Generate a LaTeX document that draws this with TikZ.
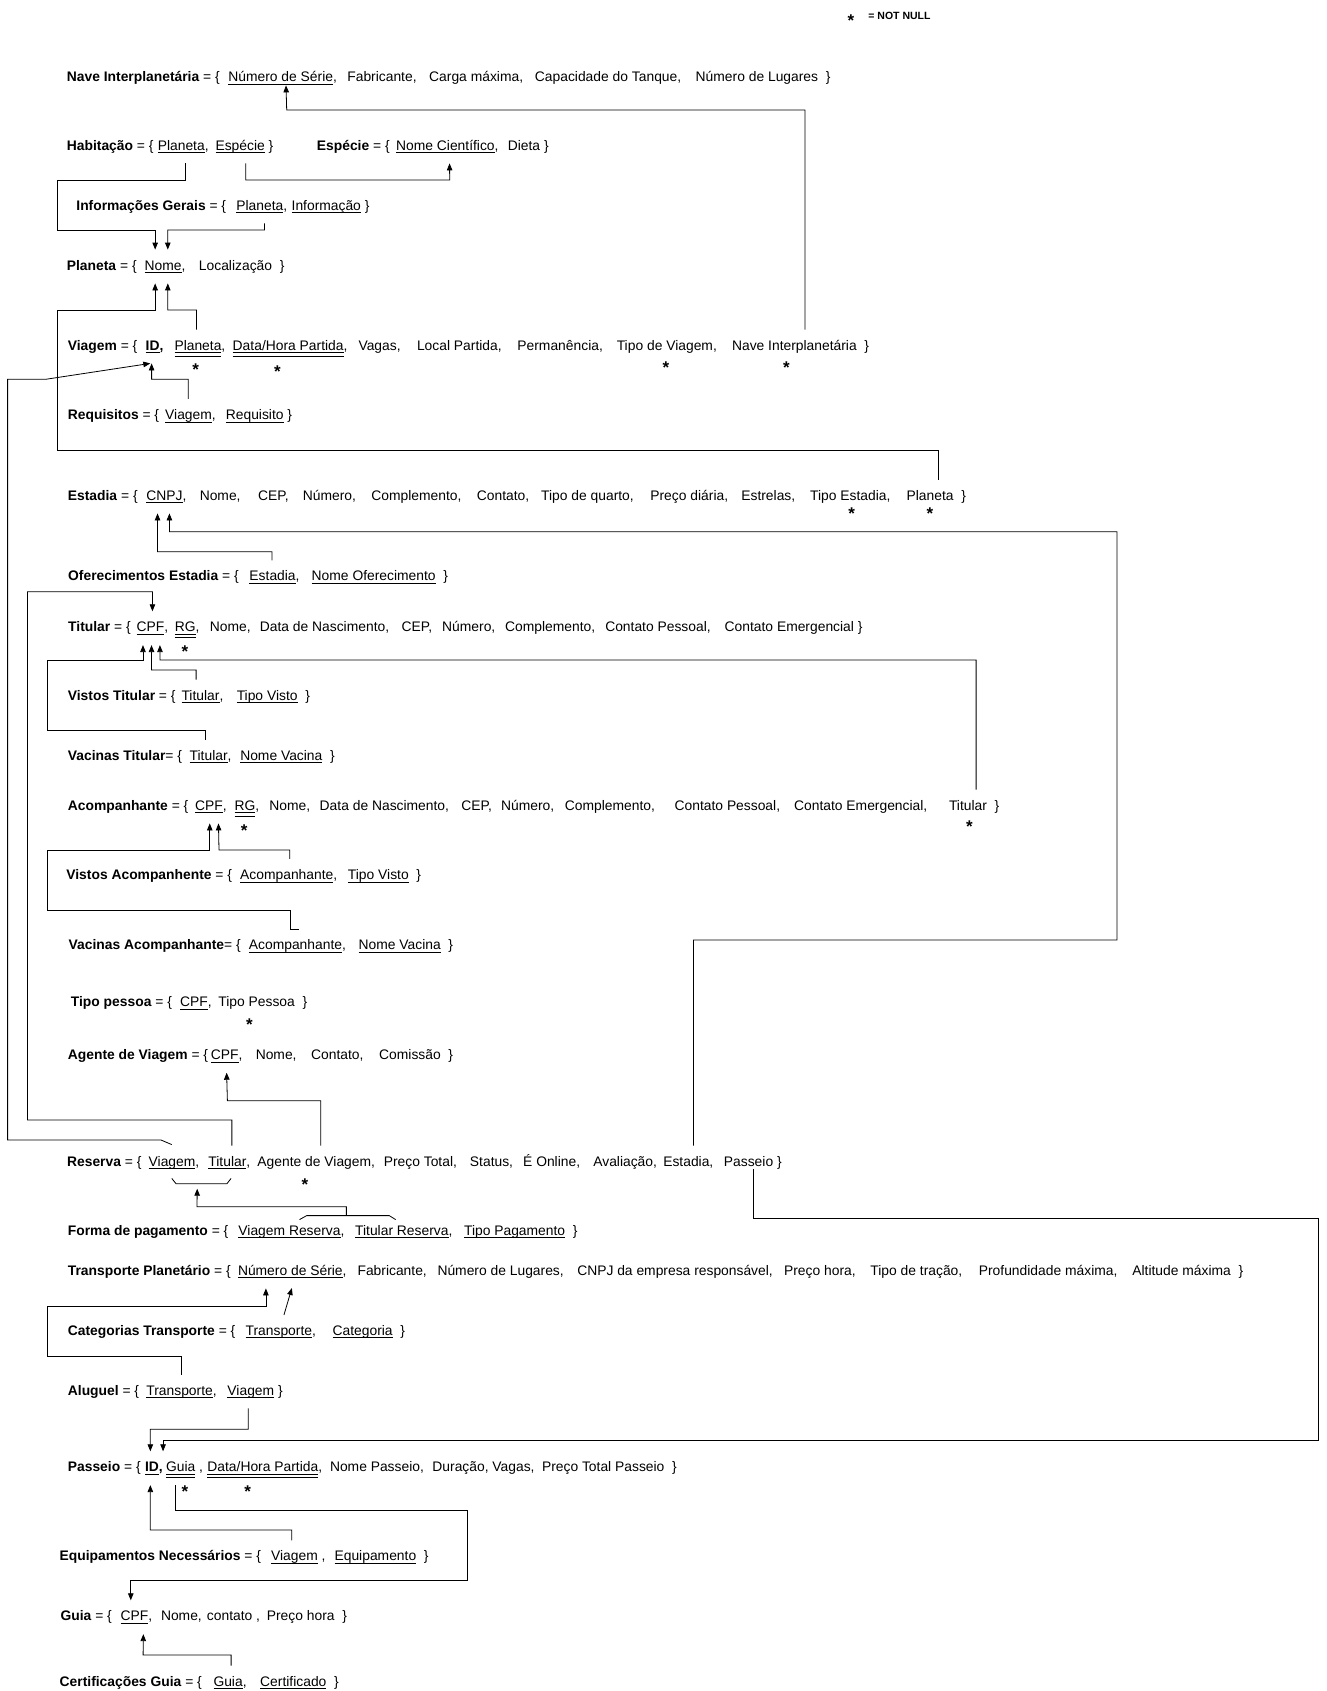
\documentclass[tikz,border=0pt]{standalone}
\usepackage{fontspec}
\setmainfont{Liberation Sans}
\usepackage{tikz}
\usetikzlibrary{arrows.meta, positioning}
\newsavebox\chbox
\newcommand{\chave}[1]{\sbox\chbox{#1}\rlap{\rule[-3pt]{\wd\chbox}{0.8pt}}\usebox\chbox}
\newcommand{\unica}[1]{\sbox\chbox{#1}\rlap{\rule[-3pt]{\wd\chbox}{0.8pt}}\rlap{\rule[-6.5pt]{\wd\chbox}{0.8pt}}\usebox\chbox}

\begin{document}
\begin{tikzpicture}[x=1pt, y=-1pt, >={Triangle[length=7pt, width=5.5pt]}, line width=0.8pt,
        every node/.style={font=\fontsize{13.85}{17}\selectfont},
        rel/.style={anchor=base west, inner sep=0pt},
        attr/.style={anchor=base west, inner sep=0pt, text height=10pt, text depth=3pt},
        nn/.style={anchor=base, inner sep=0pt, font=\bfseries\fontsize{17}{17}\selectfont},
        fk/.style={->, shorten <=10pt, shorten >=10pt}]

        \useasboundingbox (0,0) rectangle (1327,1691);

        \node[nn] (nn-leg) at (851,26.5) {*};
        \node[rel, font=\bfseries\fontsize{10.5}{12}\selectfont] (leg) at (868,19.3) {= NOT NULL};

        \node[rel] (nave) at (66.5,82) {\textbf{Nave Interplanetária} = \{};
        \node[attr, base right=7.8pt of nave] (nave-ns) {\chave{Número de Série},};
        \node[attr, base right=9.6pt of nave-ns] (nave-fab) {Fabricante,};
        \node[attr, base right=11.8pt of nave-fab] (nave-carga) {Carga máxima,};
        \node[attr, base right=11pt of nave-carga] (nave-tanque) {Capacidade do Tanque,};
        \node[attr, base right=13.7pt of nave-tanque] (nave-lug) {Número de Lugares~~\}};

        \node[rel] (hab) at (66.5,150) {\textbf{Habitação} = \{};
        \node[attr, base right=3.5pt of hab] (hab-pl) {\chave{Planeta},};
        \node[attr, base right=6.1pt of hab-pl] (hab-esp) {\chave{Espécie}~\}};
        \node[rel] (esp) at (316.5,150) {\textbf{Espécie} = \{};
        \node[attr, base right=5.7pt of esp] (esp-nc) {\chave{Nome Científico},};
        \node[attr, base right=8.5pt of esp-nc] (esp-dieta) {Dieta~\}};

        \node[rel] (inf) at (76,210) {\textbf{Informações Gerais} = \{};
        \node[attr, base right=9.5pt of inf] (inf-pl) {\chave{Planeta},};
        \node[attr, base right=3.6pt of inf-pl] (inf-info) {\chave{Informação}~\}};

        \node[rel] (pl) at (66.5,270) {\textbf{Planeta} = \{};
        \node[attr, base right=7.1pt of pl] (pl-nome) {\chave{Nome},};
        \node[attr, base right=12.8pt of pl-nome] (pl-loc) {Localização~~\}};

        \node[rel] (via) at (67.5,350) {\textbf{Viagem} = \{};
        \node[attr, base right=7.6pt of via] (via-id) {\textbf{\chave{ID},}};
        \node[attr, base right=10.3pt of via-id] (via-pl) {\unica{Planeta},};
        \node[attr, base right=6.6pt of via-pl] (via-data) {\unica{Data/Hora Partida},};
        \node[attr, base right=10.3pt of via-data] (via-vagas) {Vagas,};
        \node[attr, base right=15.6pt of via-vagas] (via-local) {Local Partida,};
        \node[attr, base right=14.9pt of via-local] (via-perm) {Permanência,};
        \node[attr, base right=13.1pt of via-perm] (via-tipo) {Tipo de Viagem,};
        \node[attr, base right=14.4pt of via-tipo] (via-nave) {Nave Interplanetária~~\}};
        \node[nn] (nn-via-pl) at (195.6,375.5) {*};
        \node[nn] (nn-via-data) at (277.4,377.8) {*};
        \node[nn] (nn-via-tipo) at (666,373.5) {*};
        \node[nn] (nn-via-nave) at (786.4,373.5) {*};

        \node[rel] (req) at (67.5,419.3) {\textbf{Requisitos} = \{};
        \node[attr, base right=5.3pt of req] (req-via) {\chave{Viagem},};
        \node[attr, base right=9.3pt of req-via] (req-req) {\chave{Requisito}~\}};

        \node[rel] (est) at (67.5,500) {\textbf{Estadia} = \{};
        \node[attr, base right=8pt of est] (est-cnpj) {\chave{CNPJ},};
        \node[attr, base right=12.5pt of est-cnpj] (est-nome) {Nome,};
        \node[attr, base right=16.8pt of est-nome] (est-cep) {CEP,};
        \node[attr, base right=13.3pt of est-cep] (est-num) {Número,};
        \node[attr, base right=14.7pt of est-num] (est-comp) {Complemento,};
        \node[attr, base right=14.6pt of est-comp] (est-cont) {Contato,};
        \node[attr, base right=11.1pt of est-cont] (est-quarto) {Tipo de quarto,};
        \node[attr, base right=15.8pt of est-quarto] (est-preco) {Preço diária,};
        \node[attr, base right=12.4pt of est-preco] (est-estr) {Estrelas,};
        \node[attr, base right=14.1pt of est-estr] (est-tipo) {Tipo Estadia,};
        \node[attr, base right=15.4pt of est-tipo] (est-pl) {Planeta~~\}};
        \node[nn] (nn-est-tipo) at (851.6,519.5) {*};
        \node[nn] (nn-est-pl) at (929.8,519.5) {*};

        \node[rel] (ofe) at (67.8,580.7) {\textbf{Oferecimentos Estadia} = \{};
        \node[attr, base right=9.9pt of ofe] (ofe-est) {\chave{Estadia},};
        \node[attr, base right=11.4pt of ofe-est] (ofe-nome) {\chave{Nome Oferecimento}~~\}};

        \node[rel] (tit) at (67.8,631.7) {\textbf{Titular} = \{};
        \node[attr, base right=5.2pt of tit] (tit-cpf) {\chave{CPF},};
        \node[attr, base right=5.8pt of tit-cpf] (tit-rg) {\unica{RG},};
        \node[attr, base right=9.7pt of tit-rg] (tit-nome) {Nome,};
        \node[attr, base right=8.3pt of tit-nome] (tit-nasc) {Data de Nascimento,};
        \node[attr, base right=11.6pt of tit-nasc] (tit-cep) {CEP,};
        \node[attr, base right=9.3pt of tit-cep] (tit-num) {Número,};
        \node[attr, base right=9pt of tit-num] (tit-comp) {Complemento,};
        \node[attr, base right=9.3pt of tit-comp] (tit-cp) {Contato Pessoal,};
        \node[attr, base right=13.1pt of tit-cp] (tit-ce) {Contato Emergencial~\}};
        \node[nn] (nn-tit-rg) at (185,657.8) {*};

        \node[rel] (vt) at (67.5,700) {\textbf{Vistos Titular} = \{};
        \node[attr, base right=5.2pt of vt] (vt-tit) {\chave{Titular},};
        \node[attr, base right=12.6pt of vt-tit] (vt-visto) {\chave{Tipo Visto}~~\}};

        \node[rel] (vac) at (67.5,760) {\textbf{Vacinas Titular}= \{};
        \node[attr, base right=6.9pt of vac] (vac-tit) {\chave{Titular},};
        \node[attr, base right=8pt of vac-tit] (vac-nome) {\chave{Nome Vacina}~~\}};

        \node[rel] (aco) at (67.5,810) {\textbf{Acompanhante} = \{};
        \node[attr, base right=6pt of aco] (aco-cpf) {\chave{CPF},};
        \node[attr, base right=7.1pt of aco-cpf] (aco-rg) {\unica{RG},};
        \node[attr, base right=9.4pt of aco-rg] (aco-nome) {Nome,};
        \node[attr, base right=8.7pt of aco-nome] (aco-nasc) {Data de Nascimento,};
        \node[attr, base right=11.6pt of aco-nasc] (aco-cep) {CEP,};
        \node[attr, base right=8.4pt of aco-cep] (aco-num) {Número,};
        \node[attr, base right=9.8pt of aco-num] (aco-comp) {Complemento,};
        \node[attr, base right=18.9pt of aco-comp] (aco-cp) {Contato Pessoal,};
        \node[attr, base right=13.2pt of aco-cp] (aco-ce) {Contato Emergencial,};
        \node[attr, base right=20.9pt of aco-ce] (aco-tit) {Titular~~\}};
        \node[nn] (nn-aco-rg) at (244.3,836.2) {*};
        \node[nn] (nn-aco-tit) at (969.5,832.2) {*};

        \node[rel] (vsa) at (66,879.3) {\textbf{Vistos Acompanhente} = \{};
        \node[attr, base right=7.4pt of vsa] (vsa-aco) {\chave{Acompanhante},};
        \node[attr, base right=9.9pt of vsa-aco] (vsa-visto) {\chave{Tipo Visto}~~\}};

        \node[rel] (vaa) at (68.3,949.3) {\textbf{Vacinas Acompanhante}= \{};
        \node[attr, base right=7.4pt of vaa] (vaa-aco) {\chave{Acompanhante},};
        \node[attr, base right=11.9pt of vaa-aco] (vaa-nome) {\chave{Nome Vacina}~~\}};

        \node[rel] (tp) at (70.5,1006.7) {\textbf{Tipo pessoa} = \{};
        \node[attr, base right=7.3pt of tp] (tp-cpf) {\chave{CPF},};
        \node[attr, base right=6pt of tp-cpf] (tp-tipo) {Tipo Pessoa~~\}};
        \node[nn] (nn-tp) at (249.5,1030.3) {*};

        \node[rel] (ag) at (67.5,1059.3) {\textbf{Agente de Viagem} = \{};
        \node[attr, base right=2pt of ag] (ag-cpf) {\chave{CPF},};
        \node[attr, base right=12.5pt of ag-cpf] (ag-nome) {Nome,};
        \node[attr, base right=13.8pt of ag-nome] (ag-cont) {Contato,};
        \node[attr, base right=14.9pt of ag-cont] (ag-com) {Comissão~~\}};

        \node[rel] (res) at (66.7,1166) {\textbf{Reserva} = \{};
        \node[attr, base right=6.4pt of res] (res-via) {\chave{Viagem},};
        \node[attr, base right=8.4pt of res-via] (res-tit) {\chave{Titular},};
        \node[attr, base right=6.4pt of res-tit] (res-ag) {Agente de Viagem,};
        \node[attr, base right=8pt of res-ag] (res-preco) {Preço Total,};
        \node[attr, base right=12.2pt of res-preco] (res-status) {Status,};
        \node[attr, base right=9.3pt of res-status] (res-online) {É Online,};
        \node[attr, base right=12.4pt of res-online] (res-aval) {Avaliação,};
        \node[attr, base right=5.5pt of res-aval] (res-est) {Estadia,};
        \node[attr, base right=9.8pt of res-est] (res-pas) {Passeio~\}};
        \node[nn] (nn-res-ag) at (305,1190.2) {*};

        \node[rel] (fp) at (67.5,1235) {\textbf{Forma de pagamento} = \{};
        \node[attr, base right=9.3pt of fp] (fp-vr) {\chave{Viagem Reserva},};
        \node[attr, base right=9.9pt of fp-vr] (fp-tr) {\chave{Titular Reserva},};
        \node[attr, base right=10.9pt of fp-tr] (fp-tp) {\chave{Tipo Pagamento}~~\}};

        \node[rel] (tr) at (67.5,1275) {\textbf{Transporte Planetário} = \{};
        \node[attr, base right=6.5pt of tr] (tr-ns) {\chave{Número de Série},};
        \node[attr, base right=10.2pt of tr-ns] (tr-fab) {Fabricante,};
        \node[attr, base right=9.9pt of tr-fab] (tr-lug) {Número de Lugares,};
        \node[attr, base right=12.7pt of tr-lug] (tr-cnpj) {CNPJ da empresa responsável,};
        \node[attr, base right=10.5pt of tr-cnpj] (tr-ph) {Preço hora,};
        \node[attr, base right=13.9pt of tr-ph] (tr-tracao) {Tipo de tração,};
        \node[attr, base right=15.8pt of tr-tracao] (tr-prof) {Profundidade máxima,};
        \node[attr, base right=14.1pt of tr-prof] (tr-alt) {Altitude máxima~~\}};

        \node[rel] (cat) at (67.5,1335) {\textbf{Categorias Transporte} = \{};
        \node[attr, base right=9.5pt of cat] (cat-tr) {\chave{Transporte},};
        \node[attr, base right=15.9pt of cat-tr] (cat-cat) {\chave{Categoria}~~\}};

        \node[rel] (alu) at (67.5,1395) {\textbf{Aluguel} = \{};
        \node[attr, base right=6.5pt of alu] (alu-tr) {\chave{Transporte},};
        \node[attr, base right=10pt of alu-tr] (alu-via) {\chave{Viagem}~\}};

        \node[rel] (pas) at (67.5,1471.7) {\textbf{Passeio} = \{};
        \node[attr, base right=3.6pt of pas] (pas-id) {\textbf{\chave{ID},}};
        \node[attr, base right=2.5pt of pas-id] (pas-guia) {\unica{Guia}~,};
        \node[attr, base right=3.6pt of pas-guia] (pas-data) {\unica{Data/Hora Partida},};
        \node[attr, base right=7.1pt of pas-data] (pas-nome) {Nome Passeio,};
        \node[attr, base right=7.7pt of pas-nome] (pas-dur) {Duração,};
        \node[attr, base right=3pt of pas-dur] (pas-vagas) {Vagas,};
        \node[attr, base right=6.7pt of pas-vagas] (pas-preco) {Preço Total Passeio~~\}};
        \node[nn] (nn-pas-guia) at (185,1497.8) {*};
        \node[nn] (nn-pas-data) at (247.7,1497.8) {*};

        \node[rel] (eq) at (59.3,1560.7) {\textbf{Equipamentos Necessários} = \{};
        \node[attr, base right=9.3pt of eq] (eq-via) {\chave{Viagem}~,};
        \node[attr, base right=8.3pt of eq-via] (eq-eq) {\chave{Equipamento}~~\}};

        \node[rel] (guia) at (60.2,1620.7) {\textbf{Guia} = \{};
        \node[attr, base right=7.9pt of guia] (guia-cpf) {\chave{CPF},};
        \node[attr, base right=8.1pt of guia-cpf] (guia-nome) {Nome,};
        \node[attr, base right=4.3pt of guia-nome] (guia-cont) {contato~,};
        \node[attr, base right=6pt of guia-cont] (guia-ph) {Preço hora~~\}};

        \node[rel] (cg) at (59.3,1686) {\textbf{Certificações Guia} = \{};
        \node[attr, base right=10.9pt of cg] (cg-guia) {\chave{Guia},};
        \node[attr, base right=12.8pt of cg-guia] (cg-cert) {\chave{Certificado}~~\}};

        \coordinate (res-ch) at ([xshift=49pt, yshift=-14.3pt]res-via.south west);
        \coordinate (fp-ch) at ([xshift=108.3pt, yshift=9pt]fp-vr.north west);
        \draw ([xshift=23.5pt, yshift=-9pt]res-via.south west) -- ++(4.2,5.3) -- ++(50.9,0) -- ++(4.2,-5.3);
        \draw ([xshift=61.4pt, yshift=5pt]fp-vr.north west) -- ++(7.2,-4) -- ++(82.6,0) -- ++(6.4,4);

        \draw[fk, shorten >=0pt] ([xshift=73.4pt]via-nave.north west) |- (286.7,110) -- ([xshift=58pt]nave-ns.south west);
        \draw[fk] ([xshift=27.5pt]hab-pl.south west) |- (57.6,180) -- (57.6,230) -| ([xshift=11pt]pl-nome.north west);
        \draw[fk] ([xshift=30.6pt]hab-esp.south west) |- (449.7,180) -- ([xshift=53.7pt]esp-nc.south west);
        \draw[fk] ([xshift=28.5pt]inf-pl.south west) |- (167.7,230) -- ([xshift=23.7pt]pl-nome.north west);
        \draw[fk] ([xshift=32.3pt]est-pl.north west) |- (57.6,450) -- (57.6,310) -| ([xshift=11pt]pl-nome.south west);
        \draw[fk] ([xshift=22.4pt]via-pl.north west) |- (167.7,310) -- ([xshift=23.7pt]pl-nome.south west);
        \draw[fk] ([xshift=23.4pt]req-via.north west) |- (151.6,379.3) -- ([xshift=6.3pt]via-id.south west);
        \draw[fk, shorten <=0pt, shorten >=0pt] ([xshift=23.5pt, yshift=11pt]res-via.north west) -- (161,1140) -- (7.6,1140) -- (7.6,379.3) -- (45.7,379.3) -- ([xshift=5pt, yshift=-10pt]via-id.south west);
        \draw[fk] ([xshift=23pt]ofe-est.north west) |- (157.5,551.7) -- ([xshift=11.5pt]est-cnpj.south west);
        \draw[fk] ([xshift=30.5pt]res-est.north west) |- (1117,940) |- (169.4,531.7) -- ([xshift=23.4pt]est-cnpj.south west);
        \draw[fk] ([xshift=23.8pt]res-tit.north west) |- (27.5,1120) |- (152.5,591.7) -- ([xshift=16.1pt]tit-cpf.north west);
        \draw[fk] ([xshift=15pt]vt-tit.north west) |- (151.6,670) -- ([xshift=15.2pt]tit-cpf.south west);
        \draw[fk] ([xshift=16.5pt]vac-tit.north west) |- (47.4,730.7) -- (47.4,660) -| ([xshift=6.7pt]tit-cpf.south west);
        \draw[fk] ([xshift=27.5pt]aco-tit.north west) |- (160,660) -- ([xshift=23.6pt]tit-cpf.south west);
        \draw[fk] ([xshift=49.9pt]vsa-aco.north west) |- (219,850) -- ([xshift=23.5pt]aco-cpf.south west);
        \draw[fk, shorten <=0pt] ([xshift=50.4pt, yshift=10pt]vaa-aco.north west) -| (290.5,910) -| (47.4,850) -| ([xshift=15pt]aco-cpf.south west);
        \draw[fk] ([xshift=63.6pt]res-ag.north west) |- (227.4,1100.7) -- ([xshift=15.8pt]ag-cpf.south west);
        \draw[fk, shorten <=0pt, shorten >=5pt] (fp-ch) |- (197,1206.7) -- (res-ch);
        \draw[fk] ([xshift=35.2pt]alu-tr.north west) |- (47.4,1356) -- (47.4,1306.7) -| ([xshift=28.3pt]tr-ns.south west);
        \draw[fk] ([xshift=35.9pt]cat-tr.north west) -- ([xshift=57.1pt]tr-ns.south west);
        \draw[fk] ([xshift=21.1pt]alu-via.south west) |- (150.3,1429.3) -- ([xshift=5.7pt]pas-id.north west);
        \draw[fk, shorten <=0pt] ([xshift=29.8pt]res-pas.south west) |- (1318.3,1218.3) -- (1318.3,1440) -| ([xshift=18.4pt]pas-id.north west);
        \draw[fk] ([xshift=21pt]eq-via.north west) |- (150.3,1530) -- ([xshift=5.7pt]pas-id.south west);
        \draw[fk] ([xshift=9.7pt]pas-guia.south west) |- (467.5,1510) -- (467.5,1580) -| ([xshift=10.6pt]guia-cpf.north west);
        \draw[fk] ([xshift=18pt]cg-guia.north west) |- (143.1,1655) -- ([xshift=23.3pt]guia-cpf.south west);
    \end{tikzpicture}
\end{document}
